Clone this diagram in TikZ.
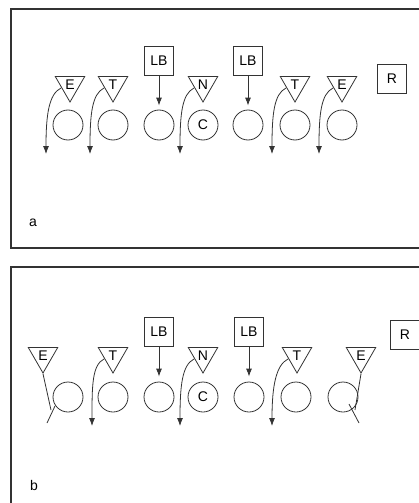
\documentclass[tikz,border=0pt]{standalone}
\usepackage{fontspec}
\setmainfont{Liberation Sans}
\usetikzlibrary{shapes.geometric,arrows.meta}
\tikzset{
  lineman/.style = {circle, draw, minimum size=30pt, inner sep=0pt},
  dline/.style = {regular polygon, regular polygon sides=3, shape border rotate=180,
    draw, minimum size=34pt, inner sep=0pt},
  backer/.style = {rectangle, draw, minimum size=29pt, inner sep=0pt},
  rush/.style = {-{Latex[length=8pt,width=6pt]}},
  frame/.style = {line width=1.2pt}
}
\begin{document}
\begin{tikzpicture} [x = 1pt, y = -1pt, font = \fontsize{14}{16}\selectfont, draw = black!80, line width = 0.8pt]
	\useasboundingbox (0,0) rectangle (419,503);
	% frames, open to the right
	\draw [frame] (430,9) -| (11,248) -- (430,248);
	\draw [frame] (430,267) -| (11,510);
	% --- a ---
	\node [lineman] (a1) at (68,125) {};
	\node [lineman] (a2) at (113,125) {};
	\node [lineman] (a3) at (159,125) {};
	\node [lineman] (a4) at (203,125) {C};
	\node [lineman] (a5) at (248,125) {};
	\node [lineman] (a6) at (295,125) {};
	\node [lineman] (a7) at (342,125) {};
	\node [dline] (ae1) at (70,85) {E};
	\node [dline] (at1) at (113,85) {T};
	\node [dline] (an) at (203,85) {N};
	\node [dline] (at2) at (295,85) {T};
	\node [dline] (ae2) at (342,85) {E};
	\node [backer] (alb1) at (159,61) {LB};
	\node [backer] (alb2) at (248,61) {LB};
	\node [backer] (ar) at (392,79) {R};
	\node (alabel) at (33,223) {a};
	\draw [rush, shorten >= 4pt] (alb1) -- (a3);
	\draw [rush, shorten >= 4pt] (alb2) -- (a5);
	\coordinate (ae1end) at (46,154);
	\coordinate (at1end) at (90,154);
	\coordinate (anend) at (180,154);
	\coordinate (at2end) at (272,154);
	\coordinate (ae2end) at (319,154);
	\draw [rush] ([shift={(-9,3)}]ae1.center) .. controls +(-12,6) and +(0,-40) .. (ae1end);
	\draw [rush] ([shift={(-9,3)}]at1.center) .. controls +(-12,6) and +(0,-40) .. (at1end);
	\draw [rush] ([shift={(-9,3)}]an.center) .. controls +(-12,6) and +(0,-40) .. (anend);
	\draw [rush] ([shift={(-9,3)}]at2.center) .. controls +(-12,6) and +(0,-40) .. (at2end);
	\draw [rush] ([shift={(-9,3)}]ae2.center) .. controls +(-12,6) and +(0,-40) .. (ae2end);
	% --- b ---
	\node [lineman] (b1) at (68,397) {};
	\node [lineman] (b2) at (113,397) {};
	\node [lineman] (b3) at (159,397) {};
	\node [lineman] (b4) at (203,397) {C};
	\node [lineman] (b5) at (249,397) {};
	\node [lineman] (b6) at (296,397) {};
	\node [lineman] (b7) at (343,397) {};
	\node [dline] (be1) at (43,356) {E};
	\node [dline] (bt1) at (113,356) {T};
	\node [dline] (bn) at (203,356) {N};
	\node [dline] (bt2) at (297,356) {T};
	\node [dline] (be2) at (361,356) {E};
	\node [backer] (blb1) at (159,332) {LB};
	\node [backer] (blb2) at (249,332) {LB};
	\node [backer] (br) at (405,335) {R};
	\node (blabel) at (34,485) {b};
	\draw [rush, shorten >= 5pt] (blb1) -- (b3);
	\draw [rush, shorten >= 5pt] (blb2) -- (b5);
	\coordinate (bt1end) at (92,426);
	\coordinate (bnend) at (180,426);
	\coordinate (bt2end) at (272,426);
	\draw [rush] ([shift={(-9,3)}]bt1.center) .. controls +(-12,6) and +(0,-40) .. (bt1end);
	\draw [rush] ([shift={(-9,3)}]bn.center) .. controls +(-12,6) and +(0,-40) .. (bnend);
	\draw [rush] ([shift={(-9,3)}]bt2.center) .. controls +(-12,6) and +(0,-40) .. (bt2end);
	% blocks of the two ends
	\coordinate (be1end) at (51,410);
	\coordinate (be1k1) at (55,406);
	\coordinate (be1k2) at (47,423);
	\draw (be1.south) -- (be1end);
	\draw (be1k1) -- (be1k2);
	\coordinate (be2end) at (355,410);
	\coordinate (be2k1) at (349,404);
	\coordinate (be2k2) at (359,423);
	\draw (be2.south) -- (be2end);
	\draw (be2k1) -- (be2k2);
\end{tikzpicture}
\end{document}
